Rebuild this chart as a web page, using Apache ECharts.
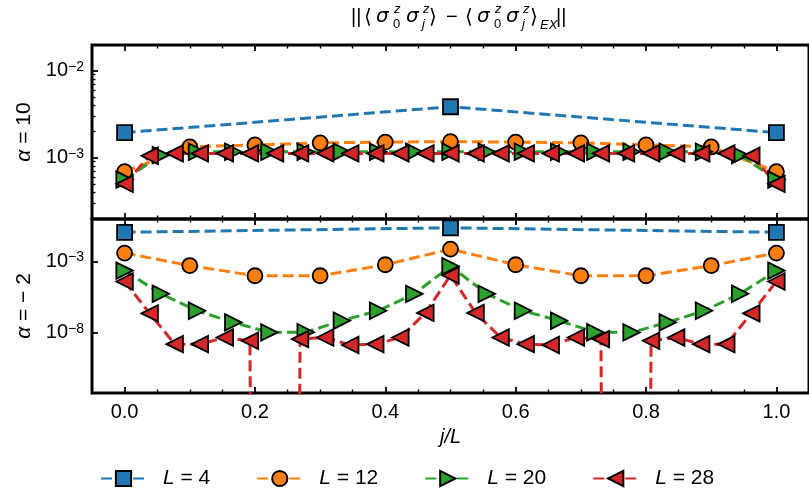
<!DOCTYPE html>
<html>
<head>
<meta charset="utf-8">
<script src="https://cdn.jsdelivr.net/npm/echarts@6/dist/echarts.min.js"></script>
<style>html,body{margin:0;background:#fff}#chart{width:809px;height:490px}</style>
</head>
<body>
<div id="chart"></div>
<script>
// positions j/(L-2) for each system size
const x4 = [0, 0.5, 1];
const x12 = [0, 0.1, 0.2, 0.3, 0.4, 0.5, 0.6, 0.7, 0.8, 0.9, 1];
const x20 = [0, 0.0556, 0.1111, 0.1667, 0.2222, 0.2778, 0.3333, 0.3889, 0.4444, 0.5,
  0.5556, 0.6111, 0.6667, 0.7222, 0.7778, 0.8333, 0.8889, 0.9444, 1];
const x28 = [0, 0.0385, 0.0769, 0.1154, 0.1538, 0.1923, 0.2308, 0.2692, 0.3077, 0.3462,
  0.3846, 0.4231, 0.4615, 0.5, 0.5385, 0.5769, 0.6154, 0.6538, 0.6923, 0.7308,
  0.7692, 0.8077, 0.8462, 0.8846, 0.9231, 0.9615, 1];

// alpha = 10 (top panel)
const top4 = [1.94e-3, 3.85e-3, 1.94e-3];
const top12 = [6.9e-4, 1.33e-3, 1.40e-3, 1.48e-3, 1.51e-3, 1.53e-3, 1.51e-3, 1.48e-3, 1.40e-3, 1.33e-3, 6.9e-4];
const top20 = [5.6e-4, 1.07e-3, 1.17e-3, 1.17e-3, 1.17e-3, 1.17e-3, 1.17e-3, 1.17e-3, 1.17e-3, 1.17e-3,
  1.17e-3, 1.17e-3, 1.17e-3, 1.17e-3, 1.17e-3, 1.17e-3, 1.17e-3, 1.07e-3, 5.6e-4];
const top28 = [5.0e-4, 1.05e-3, 1.12e-3, 1.12e-3, 1.12e-3, 1.12e-3, 1.12e-3, 1.12e-3, 1.12e-3, 1.12e-3,
  1.12e-3, 1.12e-3, 1.12e-3, 1.12e-3, 1.12e-3, 1.12e-3, 1.12e-3, 1.12e-3, 1.12e-3, 1.12e-3,
  1.12e-3, 1.12e-3, 1.12e-3, 1.12e-3, 1.12e-3, 1.05e-3, 5.0e-4];

// alpha = -2 (bottom panel), 0 = exactly zero
const bot4 = [0.112, 0.23, 0.112];
const bot12 = [3.9e-3, 5.2e-4, 1.0e-4, 1.0e-4, 5.9e-4, 7.4e-3, 5.9e-4, 1.0e-4, 1.0e-4, 5.2e-4, 3.9e-3];
const bot20 = [2.3e-4, 5.5e-6, 3.5e-7, 5.4e-8, 1.07e-8, 1.1e-8, 7.1e-8, 3.5e-7, 5.4e-6, 4.7e-4,
  5.4e-6, 3.5e-7, 7.1e-8, 1.1e-8, 1.07e-8, 5.4e-8, 3.5e-7, 5.5e-6, 2.3e-4];
const bot28 = [4.0e-5, 2.3e-7, 1.6e-9, 1.6e-9, 4.7e-9, 2.75e-9, 0, 3.6e-9, 4.7e-9, 1.4e-9,
  1.6e-9, 4.7e-9, 2.5e-7, 1.07e-4, 2.5e-7, 4.7e-9, 1.6e-9, 1.4e-9, 4.7e-9, 3.6e-9,
  0, 2.75e-9, 4.7e-9, 1.6e-9, 1.6e-9, 2.3e-7, 4.0e-5];

const xMajor = [0, 0.2, 0.4, 0.6, 0.8, 1];
const xMinor = [0.05, 0.1, 0.15, 0.25, 0.3, 0.35, 0.45, 0.5, 0.55, 0.65, 0.7, 0.75, 0.85, 0.9, 0.95];
const yTopMajor = [1e-3, 1e-2];
const yTopMinor = [2e-4, 3e-4, 4e-4, 5e-4, 6e-4, 7e-4, 8e-4, 9e-4, 2e-3, 3e-3, 4e-3, 5e-3, 6e-3, 7e-3, 8e-3, 9e-3];
const yBotMajor = [1e-8, 1e-3];

const FONT = 'Liberation Sans, Arial, sans-serif';
const chart = echarts.init(document.getElementById('chart'), null, { renderer: 'canvas' });

const sizes = [
  { name: 'L = 4', xs: x4, top: top4, bot: bot4, color: '#1f77b4', symbol: 'rect', size: 15, rot: 0 },
  { name: 'L = 12', xs: x12, top: top12, bot: bot12, color: '#ff7f0e', symbol: 'circle', size: 15, rot: 0 },
  { name: 'L = 20', xs: x20, top: top20, bot: bot20, color: '#2ca02c', symbol: 'triangle', size: 16.5, rot: -90 },
  { name: 'L = 28', xs: x28, top: top28, bot: bot28, color: '#d62728', symbol: 'triangle', size: 16.5, rot: 90 }
];

// zero values are pushed far below the axis, like matplotlib's log clipping
const clipLog = v => (v > 0 ? v : 1e-300);

function xAxesFor(g, withLabels) {
  const base = {
    gridIndex: g, type: 'value', min: -0.05, max: 1.05,
    axisLine: { show: false, onZero: false }, splitLine: { show: false }
  };
  const tick = (vals, len) => ({ inside: true, length: len, customValues: vals, lineStyle: { color: '#000', width: len > 4 ? 1.8 : 1.4 } });
  return [
    Object.assign({}, base, {
      position: 'bottom', axisTick: tick(xMajor, 6),
      axisLabel: withLabels
        ? { show: true, customValues: xMajor, margin: 9, fontSize: 20, fontFamily: FONT, color: '#000', formatter: v => v.toFixed(1) }
        : { show: false },
      name: withLabels ? 'j/L' : '', nameLocation: 'middle', nameGap: 34,
      nameTextStyle: { fontSize: 20, fontStyle: 'italic', fontFamily: FONT, color: '#000' }
    }),
    Object.assign({}, base, { position: 'bottom', axisTick: tick(xMinor, 3.5), axisLabel: { show: false } }),
    Object.assign({}, base, { position: 'top', axisTick: tick(xMajor, 6), axisLabel: { show: false } }),
    Object.assign({}, base, { position: 'top', axisTick: tick(xMinor, 3.5), axisLabel: { show: false } })
  ];
}

const expLabel = v => {
  const e = Math.round(Math.log10(v));
  return '10{s|' + (e < 0 ? '\u2212' : '') + Math.abs(e) + '}';
};
const yLabelStyle = {
  show: true, margin: 8, fontSize: 20, lineHeight: 22, fontFamily: FONT, color: '#000',
  rich: { s: { fontSize: 14, lineHeight: 14, verticalAlign: 'top', fontFamily: FONT, color: '#000' } }
};
const yNameStyle = {
  fontSize: 21, fontFamily: FONT, color: '#000',
  rich: { a: { fontSize: 21, fontStyle: 'italic', fontFamily: FONT, color: '#000' } }
};

const yAxes = [
  {
    gridIndex: 0, type: 'log', logBase: 10, min: Math.pow(10, -3.705), max: Math.pow(10, -1.705),
    position: 'left', axisLine: { show: false, onZero: false }, splitLine: { show: false },
    axisTick: { inside: true, length: 6, customValues: yTopMajor, lineStyle: { color: '#000', width: 1.8 } },
    axisLabel: Object.assign({ customValues: yTopMajor, formatter: expLabel }, yLabelStyle),
    name: '{a|\u03b1} = 10', nameLocation: 'middle', nameRotate: 90, nameGap: 56, nameTextStyle: yNameStyle
  },
  {
    gridIndex: 0, type: 'log', logBase: 10, min: Math.pow(10, -3.705), max: Math.pow(10, -1.705),
    position: 'left', axisLine: { show: false, onZero: false }, splitLine: { show: false },
    axisTick: { inside: true, length: 3.5, customValues: yTopMinor, lineStyle: { color: '#000', width: 1.3 } },
    axisLabel: { show: false }
  },
  {
    gridIndex: 1, type: 'log', logBase: 10, min: Math.pow(10, -12.22), max: Math.pow(10, -0.02),
    position: 'left', axisLine: { show: false, onZero: false }, splitLine: { show: false },
    axisTick: { inside: true, length: 6, customValues: yBotMajor, lineStyle: { color: '#000', width: 1.8 } },
    axisLabel: Object.assign({ customValues: yBotMajor, formatter: expLabel }, yLabelStyle),
    name: '{a|\u03b1} = \u2212 2', nameLocation: 'middle', nameRotate: 90, nameGap: 56, nameTextStyle: yNameStyle
  }
];

const series = [];
[['top', 0, 0], ['bot', 4, 2]].forEach(([key, xi, yi]) => {
  sizes.forEach(s => {
    series.push({
      type: 'line', name: s.name, xAxisIndex: xi, yAxisIndex: yi,
      data: s.xs.map((x, i) => [x, clipLog(s[key][i])]),
      symbol: s.symbol, symbolSize: s.size, symbolRotate: s.rot, clip: true,
      itemStyle: { color: s.color, borderColor: '#000', borderWidth: 1.8 },
      lineStyle: { color: s.color, width: 3, type: [11, 5] },
      emphasis: { disabled: true }
    });
  });
});

// title ||<s0 sj> - <s0 sj>_EX|| built from pieces (math layout)
const titleParts = [
  ['||', 351, 17, 20, false], ['\u27e8', 364, 17, 20, false],
  ['\u03c3', 376, 17, 20, true], ['z', 394, 9, 13, true], ['0', 393, 24, 13, false],
  ['\u03c3', 406, 17, 20, true], ['z', 423, 9, 13, true], ['j', 422, 24, 13, true],
  ['\u27e9', 429, 17, 20, false], ['\u2212', 446, 17, 20, false],
  ['\u27e8', 465, 17, 20, false],
  ['\u03c3', 477, 17, 20, true], ['z', 495, 9, 13, true], ['0', 494, 24, 13, false],
  ['\u03c3', 506, 17, 20, true], ['z', 523, 9, 13, true], ['j', 522, 24, 13, true],
  ['\u27e9', 530, 17, 20, false], ['EX', 540, 25, 13, true], ['||', 556, 17, 20, false]
];

chart.setOption({
  animation: false,
  backgroundColor: '#fff',
  grid: [
    { left: 92, top: 45, width: 724, height: 174, show: true, borderColor: '#000', borderWidth: 3, backgroundColor: 'transparent' },
    { left: 92, top: 219, width: 724, height: 174, show: true, borderColor: '#000', borderWidth: 3, backgroundColor: 'transparent' }
  ],
  xAxis: xAxesFor(0, false).concat(xAxesFor(1, true)),
  yAxis: yAxes,
  legend: {
    data: sizes.map(s => s.name), left: 95, top: 463, itemWidth: 45, itemHeight: 19, itemGap: 46,
    formatter: n => n.replace('L', '{i|L}'),
    textStyle: {
      fontSize: 21, fontFamily: FONT, color: '#000',
      rich: { i: { fontSize: 21, fontStyle: 'italic', fontFamily: FONT, color: '#000', padding: [0, 0, 0, 12] } }
    }
  },
  graphic: titleParts.map(p => ({
    type: 'text', x: p[1], y: p[2],
    style: {
      text: p[0], fontSize: p[3], fontStyle: p[4] ? 'italic' : 'normal',
      fontFamily: p[0] === '\u03c3' ? 'DejaVu Sans, sans-serif' : 'Liberation Sans, DejaVu Sans, sans-serif',
      fill: '#000', verticalAlign: 'middle', align: 'left'
    }
  })),
  series: series
});
</script>
</body>
</html>
